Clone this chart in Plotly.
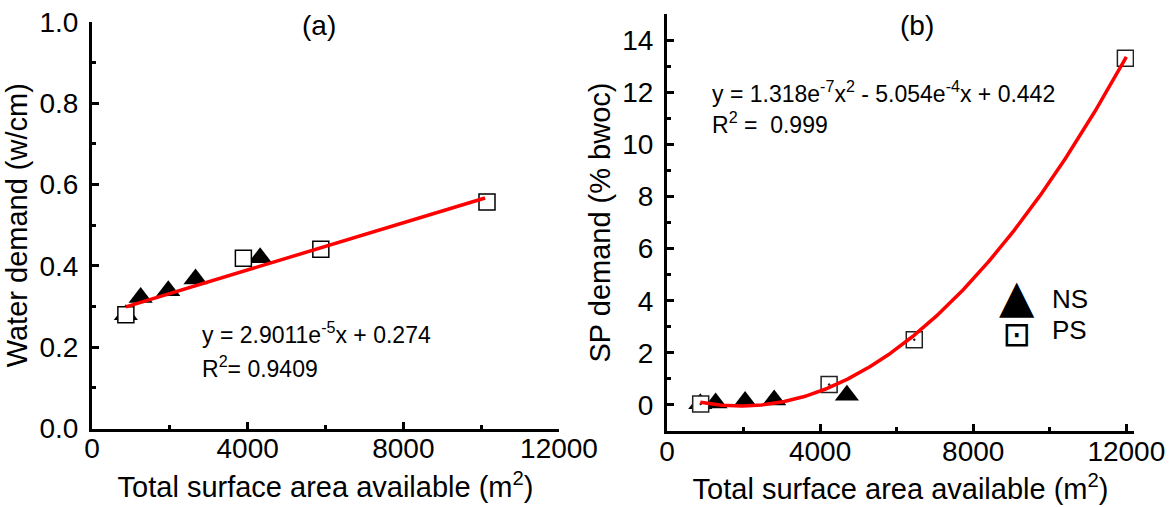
import numpy as np
import plotly.graph_objects as go

# ---------------- data ----------------
# Panel (a): water demand vs total surface area
ns_area_a = [870, 1250, 1960, 2660, 4320]
ns_water = [0.28, 0.322, 0.339, 0.368, 0.42]
ps_area_a = [870, 3890, 5880, 10150]
ps_water = [0.28, 0.419, 0.441, 0.557]

# linear fit shown on panel (a)
fit_a_slope = 2.9011e-5
fit_a_intercept = 0.274
fit_a_xmin, fit_a_xmax = 870, 10100

# Panel (b): SP demand vs total surface area
ns_area_b = [870, 1270, 2040, 2800, 4700]
ns_sp = [0.05, 0.07, 0.13, 0.19, 0.37]
ps_area_b = [880, 4235, 6460, 11975]
ps_sp = [0.04, 0.78, 2.50, 13.30]

# quadratic fit shown on panel (b)
fit_b_a2 = 1.318e-7
fit_b_a1 = -5.054e-4
fit_b_a0 = 0.442
fit_b_xmin, fit_b_xmax = 870, 12000

x_ticks = [0, 4000, 8000, 12000]
x_ticktext = ["0", "4000", "8000", "12000"]
ya_ticks = [0.0, 0.2, 0.4, 0.6, 0.8, 1.0]
yb_ticks = [0, 2, 4, 6, 8, 10, 12, 14]

# ---------------- styling ----------------
FONT = "Liberation Sans, Arial, sans-serif"
TICK_FONT = dict(family=FONT, size=28, color="black")
TITLE_FONT = dict(family=FONT, size=29, color="black")
EQ_FONT = dict(family=FONT, size=23, color="black")

fit_a_x = np.linspace(fit_a_xmin, fit_a_xmax, 50)
fit_a_y = fit_a_slope * fit_a_x + fit_a_intercept
fit_b_x = np.linspace(fit_b_xmin, fit_b_xmax, 300)
fit_b_y = fit_b_a2 * fit_b_x ** 2 + fit_b_a1 * fit_b_x + fit_b_a0

tri = dict(symbol="triangle-up", size=21, color="black", line=dict(width=0))
sq_a = dict(symbol="square", size=16, color="white", line=dict(color="black", width=1.5))
sq_b = dict(symbol="square-dot", size=16, color="white", line=dict(color="#222222", width=1.5))

fig = go.Figure()
fig.add_trace(go.Scatter(x=ns_area_a, y=ns_water, mode="markers", marker=tri,
                         name="NS", showlegend=False, xaxis="x", yaxis="y"))
fig.add_trace(go.Scatter(x=ps_area_a, y=ps_water, mode="markers", marker=sq_a,
                         name="PS", showlegend=False, xaxis="x", yaxis="y"))
fig.add_trace(go.Scatter(x=fit_a_x, y=fit_a_y, mode="lines",
                         line=dict(color="#ff0000", width=3.5),
                         name="Linear fit", showlegend=False, xaxis="x", yaxis="y"))

fig.add_trace(go.Scatter(x=ns_area_b, y=ns_sp, mode="markers", marker=tri,
                         name="NS", showlegend=False, xaxis="x2", yaxis="y2"))
fig.add_trace(go.Scatter(x=ps_area_b, y=ps_sp, mode="markers", marker=sq_b,
                         name="PS", showlegend=False, xaxis="x2", yaxis="y2"))
fig.add_trace(go.Scatter(x=fit_b_x, y=fit_b_y, mode="lines",
                         line=dict(color="#ff0000", width=3.5),
                         name="Polynomial fit", showlegend=False, xaxis="x2", yaxis="y2"))

axis_common = dict(
    showline=True, linecolor="black", linewidth=3,
    ticks="inside", ticklen=7, tickwidth=2.5, tickcolor="black",
    showgrid=False, zeroline=False, tickfont=TICK_FONT,
    mirror=False, automargin=False,
)
minor_common = dict(ticks="inside", ticklen=4, tickwidth=2.5, tickcolor="black")

xa = dict(axis_common, range=[0, 12000], tickvals=x_ticks, ticktext=x_ticktext,
          minor=dict(minor_common, dtick=2000, tick0=0),
          title=dict(text="Total surface area available (m<sup>2</sup>)", font=TITLE_FONT, standoff=14),
          ticklabelstandoff=-7)
ya = dict(axis_common, range=[0, 1.0], tickvals=ya_ticks, tickformat=".1f",
          minor=dict(minor_common, dtick=0.1, tick0=0),
          title=dict(text="Water demand (w/cm)", font=TITLE_FONT, standoff=4),
          ticklabelstandoff=5)
xb = dict(axis_common, range=[0, 12200], tickvals=x_ticks, ticktext=x_ticktext,
          minor=dict(minor_common, dtick=2000, tick0=0),
          title=dict(text="Total surface area available (m<sup>2</sup>)", font=TITLE_FONT, standoff=14),
          ticklabelstandoff=-7)
yb = dict(axis_common, range=[-1, 15], tickvals=yb_ticks,
          minor=dict(minor_common, dtick=1, tick0=0),
          title=dict(text="SP demand (% bwoc)", font=TITLE_FONT, standoff=4),
          ticklabelstandoff=5)

W, H = 1175, 507
fig.update_layout(
    template="none",
    width=W, height=H,
    margin=dict(l=0, r=0, t=0, b=0, autoexpand=False),
    paper_bgcolor="white", plot_bgcolor="white",
    xaxis=dict(xa, domain=[92 / W, 559 / W], anchor="y"),
    yaxis=dict(ya, domain=[1 - 428.5 / H, 1 - 22 / H], anchor="x"),
    xaxis2=dict(xb, domain=[667 / W, 1134 / W], anchor="y2"),
    yaxis2=dict(yb, domain=[1 - 431 / H, 1 - 14 / H], anchor="x2"),
    showlegend=False,
)

def note(text, x, y, xref="paper", yref="paper", xanchor="center", font=EQ_FONT, **kw):
    return dict(text=text, x=x, y=y, xref=xref, yref=yref, xanchor=xanchor,
                yanchor="middle", showarrow=False, font=font, **kw)

legend_keys = ("<span style='font-size:46px'>\u25B2</span><br>"
               "<span style='font-size:34px'>\u22A1</span>")

ann = [
    # panel labels
    note("(a)", 319 / W, 1 - 25 / H, font=dict(family=FONT, size=28, color="black")),
    note("(b)", 917 / W, 1 - 25 / H, font=dict(family=FONT, size=28, color="black")),
    # fitted equations
    note("y = 2.9011e<sup>-5</sup>x + 0.274", 2775, 0.235, "x", "y", "left"),
    note("R<sup>2</sup>= 0.9409", 2775, 0.152, "x", "y", "left"),
    note("y = 1.318e<sup>-7</sup>x<sup>2</sup> - 5.054e<sup>-4</sup>x + 0.442", 1124, 12.0, "x2", "y2", "left"),
    note("R<sup>2</sup> = \u00a00.999", 1124, 10.8, "x2", "y2", "left"),
    # legend of panel (b): keys in one text block, labels beside them
    note(legend_keys, 1016.5 / W, 1 - 311 / H, align="center",
         font=dict(family="DejaVu Sans", size=26, color="black")),
    note("NS", 1050 / W, 1 - 299 / H, xanchor="left", font=dict(family=FONT, size=26, color="black")),
    note("PS", 1050 / W, 1 - 330 / H, xanchor="left", font=dict(family=FONT, size=26, color="black")),
]
fig.update_layout(annotations=ann)

fig.write_html("out.html")
